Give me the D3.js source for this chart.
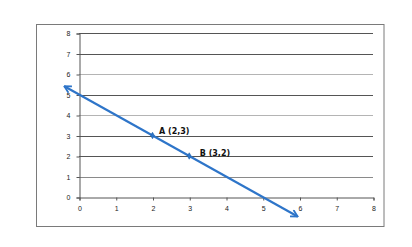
<!DOCTYPE html>
<html>
<head>
<meta charset="utf-8">
<script src="https://cdn.jsdelivr.net/npm/d3@7.9.0/dist/d3.min.js"></script>
<style>
  body { margin: 0; background: #fff; }
  svg { display: block; font-family: "DejaVu Sans", sans-serif; }
</style>
</head>
<body>
<svg width="412" height="247"></svg>
<script>
// data
const xTicks = [0, 1, 2, 3, 4, 5, 6, 7, 8];
const yTicks = [0, 1, 2, 3, 4, 5, 6, 7, 8];
const lineX = [-0.4, 5.95];
const lineY = [5.4, -0.95];
const pointNames = ['A (2,3)', 'B (3,2)'];
const pointX = [2, 3];
const pointY = [3, 2];

const svg = d3.select('svg');
const margin = { left: 79, right: 39, top: 33, bottom: 50 };
const width = 412 - margin.left - margin.right;
const height = 247 - margin.top - margin.bottom;

// outer frame
svg.append('rect')
    .attr('x', 36.5).attr('y', 24.5)
    .attr('width', 347.5).attr('height', 202)
    .attr('fill', 'none').attr('stroke', '#7a7a7a');

const x = d3.scaleLinear().domain([0, 8]).range([margin.left, margin.left + width]);
const y = d3.scaleLinear().domain([0, 8]).range([margin.top + height, margin.top]);

// horizontal gridlines
const gridColor = (d) => (d === 6 || d === 4 ? '#b4b4b4' : (d === 1 ? '#8a8a8a' : '#555'));
svg.append('g')
    .selectAll('line')
    .data(yTicks.filter((d) => d > 0))
    .join('line')
    .attr('x1', x(0)).attr('x2', x(8))
    .attr('y1', (d) => Math.round(y(d)) + 0.5)
    .attr('y2', (d) => Math.round(y(d)) + 0.5)
    .attr('stroke', gridColor);

// axes
const yAxis = svg.append('g')
    .attr('transform', `translate(${x(0) + 0.5},0.5)`)
    .call(d3.axisLeft(y).tickValues(yTicks).tickSize(3).tickPadding(6));
const xAxis = svg.append('g')
    .attr('transform', `translate(0.5,${y(0) + 0.5})`)
    .call(d3.axisBottom(x).tickValues(xTicks).tickSize(3).tickPadding(6));

[xAxis, yAxis].forEach((g) => {
    g.select('.domain').attr('stroke', '#555');
    g.selectAll('.tick line').attr('stroke', '#555');
    g.selectAll('.tick text').attr('font-size', 7).attr('fill', '#222');
});

// arrow markers (open V heads at both ends)
const defs = svg.append('defs');
defs.append('marker')
    .attr('id', 'arrow')
    .attr('viewBox', '0 0 10 10')
    .attr('refX', 9).attr('refY', 5)
    .attr('markerWidth', 9).attr('markerHeight', 9)
    .attr('markerUnits', 'userSpaceOnUse')
    .attr('orient', 'auto-start-reverse')
    .append('path')
    .attr('d', 'M1.5,1 L9,5 L1.5,9')
    .attr('fill', 'none')
    .attr('stroke', '#2e75c9')
    .attr('stroke-width', 2);

const lineData = lineX.map((d, i) => [d, lineY[i]]);
svg.append('path')
    .datum(lineData)
    .attr('d', d3.line().x((d) => x(d[0])).y((d) => y(d[1])))
    .attr('stroke', '#2e75c9')
    .attr('stroke-width', 2.2)
    .attr('fill', 'none')
    .attr('marker-start', 'url(#arrow)')
    .attr('marker-end', 'url(#arrow)');

// points
const pts = pointX.map((d, i) => ({ x: d, y: pointY[i], name: pointNames[i] }));
svg.append('g')
    .selectAll('path')
    .data(pts)
    .join('path')
    .attr('transform', (d) => `translate(${x(d.x)},${y(d.y)})`)
    .attr('d', d3.symbol(d3.symbolDiamond, 12))
    .attr('fill', '#2e75c9')
    .attr('stroke', '#1d5fa8')
    .attr('stroke-width', 0.6);

svg.append('g')
    .selectAll('text')
    .data(pts)
    .join('text')
    .attr('x', (d, i) => x(d.x) + (i === 0 ? 6.5 : 10.5))
    .attr('y', (d, i) => y(d.y) - (i === 0 ? 2 : 0))
    .attr('font-size', 8)
    .attr('font-weight', 'bold')
    .attr('fill', '#111')
    .text((d) => d.name);
</script>
</body>
</html>
